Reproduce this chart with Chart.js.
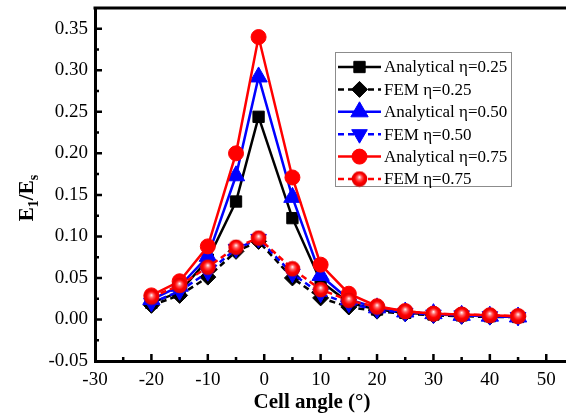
<!DOCTYPE html>
<html>
<head>
<meta charset="utf-8">
<script src="https://cdn.jsdelivr.net/npm/chart.js@4/dist/chart.umd.min.js"></script>
<style>
  html, body { margin: 0; padding: 0; overflow: hidden; background: #fff; }
  canvas { display: block; }
</style>
</head>
<body>
<canvas class="line-chart" width="566" height="417"></canvas>
<script>
const angles = [-20, -15, -10, -5, -1, 5, 10, 15, 20, 25, 30, 35, 40, 45];

const analytical25 = [0.020, 0.033, 0.072, 0.142, 0.244, 0.122, 0.046, 0.020, 0.012, 0.008, 0.006, 0.005, 0.004, 0.003];
const fem25 = [0.017, 0.029, 0.051, 0.082, 0.094, 0.050, 0.026, 0.015, 0.010, 0.007, 0.005, 0.004, 0.003, 0.003];
const analytical50 = [0.024, 0.040, 0.076, 0.173, 0.292, 0.147, 0.053, 0.024, 0.014, 0.009, 0.007, 0.005, 0.004, 0.003];
const fem50 = [0.020, 0.034, 0.057, 0.085, 0.097, 0.055, 0.031, 0.019, 0.012, 0.008, 0.006, 0.005, 0.004, 0.003];
const analytical75 = [0.029, 0.046, 0.088, 0.200, 0.340, 0.171, 0.066, 0.031, 0.016, 0.010, 0.007, 0.006, 0.005, 0.004];
const fem75 = [0.027, 0.041, 0.063, 0.087, 0.098, 0.061, 0.036, 0.023, 0.015, 0.010, 0.007, 0.006, 0.005, 0.004];

const xTicks = [-30, -20, -10, 0, 10, 20, 30, 40, 50];
const yTicks = [-0.05, 0.00, 0.05, 0.10, 0.15, 0.20, 0.25, 0.30, 0.35];

const serif = "'Liberation Serif', 'Times New Roman', serif";

// red ball with a highlight for the FEM eta=0.75 markers
const ball = document.createElement('canvas');
ball.width = 17;
ball.height = 17;
const bctx = ball.getContext('2d');
const grad = bctx.createRadialGradient(8.5, 6.5, 0, 8.5, 8.5, 8);
grad.addColorStop(0, '#ffffff');
grad.addColorStop(0.3, '#ff5a5a');
grad.addColorStop(0.6, '#ff0000');
grad.addColorStop(1, '#d80000');
bctx.fillStyle = grad;
bctx.beginPath();
bctx.arc(8.5, 8.5, 7.8, 0, Math.PI * 2);
bctx.fill();

const toPoints = (vals) => vals.map((v, i) => ({ x: angles[i], y: v }));

const series = [
  { label: 'Analytical η=0.25', data: analytical25, color: '#000000', dash: [], style: 'rect', radius: 8, rotation: 0 },
  { label: 'FEM η=0.25', data: fem25, color: '#000000', dash: [6, 4], style: 'rectRot', radius: 8, rotation: 0 },
  { label: 'Analytical η=0.50', data: analytical50, color: '#0000ff', dash: [], style: 'triangle', radius: 10, rotation: 0 },
  { label: 'FEM η=0.50', data: fem50, color: '#0000ff', dash: [6, 4], style: 'triangle', radius: 9, rotation: 180 },
  { label: 'Analytical η=0.75', data: analytical75, color: '#ff0000', dash: [], style: 'circle', radius: 7.5, rotation: 0 },
  { label: 'FEM η=0.75', data: fem75, color: '#ff0000', dash: [6, 4], style: ball, radius: 8, rotation: 0 },
];

const frame = {
  id: 'frame',
  afterDraw(chart) {
    const ctx = chart.ctx;
    const area = chart.chartArea;
    const xs = chart.scales.x;
    const ys = chart.scales.y;
    ctx.save();
    ctx.strokeStyle = '#000';
    ctx.lineWidth = 3;
    ctx.beginPath();
    ctx.moveTo(area.left - 1.5, area.top);
    ctx.lineTo(chart.width, area.top);
    ctx.stroke();

    // inward ticks
    ctx.lineWidth = 2.5;
    ctx.beginPath();
    for (let k = -6; k <= 10; k++) {
      const px = xs.getPixelForValue(k * 5);
      if (px <= area.left + 1 || px > area.right) continue;
      const len = k % 2 === 0 ? 7 : 4;
      ctx.moveTo(px, area.bottom);
      ctx.lineTo(px, area.bottom - len);
    }
    for (let k = -2; k <= 14; k++) {
      const py = ys.getPixelForValue(k * 0.025);
      if (py >= area.bottom - 1) continue;
      const len = k % 2 === 0 ? 7 : 4;
      ctx.moveTo(area.left, py);
      ctx.lineTo(area.left + len, py);
    }
    ctx.stroke();

    // axis titles
    ctx.fillStyle = '#000';
    ctx.font = 'bold 21px ' + serif;
    ctx.textAlign = 'center';
    ctx.textBaseline = 'alphabetic';
    ctx.fillText('Cell angle (°)', 312, 408);

    ctx.translate(33, 198);
    ctx.rotate(-Math.PI / 2);
    const big = 'bold 21px ' + serif;
    const small = 'bold 14px ' + serif;
    const parts = [
      { t: 'E', f: big, dy: 0 },
      { t: '1', f: small, dy: 5 },
      { t: '/', f: big, dy: 0 },
      { t: 'E', f: big, dy: 0 },
      { t: 's', f: small, dy: 5 },
    ];
    let total = 0;
    parts.forEach((p) => {
      ctx.font = p.f;
      p.w = ctx.measureText(p.t).width;
      total += p.w;
    });
    let cx = -total / 2;
    ctx.textAlign = 'left';
    parts.forEach((p) => {
      ctx.font = p.f;
      ctx.fillText(p.t, cx, p.dy);
      cx += p.w;
    });
    ctx.restore();
  },
};

const legendBox = {
  id: 'legendBox',
  afterDraw(chart) {
    const ctx = chart.ctx;
    const left = 335.5;
    const top = 52.5;
    ctx.save();
    ctx.fillStyle = '#fff';
    ctx.fillRect(left, top, 176, 134);
    ctx.strokeStyle = '#8c8c8c';
    ctx.lineWidth = 1;
    ctx.strokeRect(left, top, 176, 134);
    chart.data.datasets.forEach((ds, i) => {
      const y = 67 + i * 22.4;
      ctx.strokeStyle = ds.borderColor;
      ctx.lineWidth = ds.borderWidth;
      ctx.setLineDash(ds.borderDash || []);
      ctx.beginPath();
      ctx.moveTo(338, y);
      ctx.lineTo(381, y);
      ctx.stroke();
      ctx.setLineDash([]);
      ctx.fillStyle = ds.pointBackgroundColor;
      ctx.strokeStyle = ds.pointBorderColor;
      ctx.lineWidth = 1;
      Chart.helpers.drawPoint(ctx, {
        pointStyle: ds.pointStyle,
        rotation: ds.pointRotation,
        radius: ds.pointRadius,
        borderWidth: 1,
      }, 359.5, y);
      ctx.fillStyle = '#000';
      ctx.font = '17px ' + serif;
      ctx.textAlign = 'left';
      ctx.textBaseline = 'middle';
      ctx.fillText(ds.label, 384, y + 1);
    });
    ctx.restore();
  },
};

new Chart(document.querySelector('.line-chart'), {
  type: 'scatter',
  data: {
    datasets: series.map((s, i) => ({
      label: s.label,
      data: toPoints(s.data),
      showLine: true,
      borderColor: s.color,
      borderWidth: 2.5,
      borderDash: s.dash,
      pointStyle: s.style,
      pointRotation: s.rotation,
      pointRadius: s.radius,
      pointHoverRadius: s.radius,
      pointBackgroundColor: s.color,
      pointBorderColor: s.color,
      pointBorderWidth: 1,
      order: series.length - 1 - i,
      clip: false,
    })),
  },
  options: {
    responsive: false,
    animation: false,
    events: [],
    layout: { autoPadding: false, padding: { top: 8, left: 0, right: 0, bottom: 0 } },
    plugins: {
      legend: { display: false },
      tooltip: { enabled: false },
    },
    scales: {
      x: {
        type: 'linear',
        min: -30,
        max: 53.5,
        afterFit: (scale) => {
          scale.height = 56;
          scale.paddingLeft = 0;
          scale.paddingRight = 0;
        },
        afterBuildTicks: (scale) => { scale.ticks = xTicks.map((v) => ({ value: v })); },
        ticks: {
          color: '#000',
          padding: 8,
          font: { family: serif, size: 19 },
          callback: (v) => String(v),
        },
        grid: { display: false, drawTicks: false },
        border: { display: true, color: '#000', width: 3 },
      },
      y: {
        type: 'linear',
        min: -0.05,
        max: 0.375,
        afterFit: (scale) => {
          scale.width = 95;
          scale.paddingTop = 0;
          scale.paddingBottom = 0;
        },
        afterBuildTicks: (scale) => { scale.ticks = yTicks.map((v) => ({ value: v })); },
        ticks: {
          color: '#000',
          padding: 7,
          font: { family: serif, size: 19 },
          callback: (v) => Number(v).toFixed(2),
        },
        grid: { display: false, drawTicks: false },
        border: { display: true, color: '#000', width: 3 },
      },
    },
  },
  plugins: [frame, legendBox],
});
</script>
</body>
</html>
